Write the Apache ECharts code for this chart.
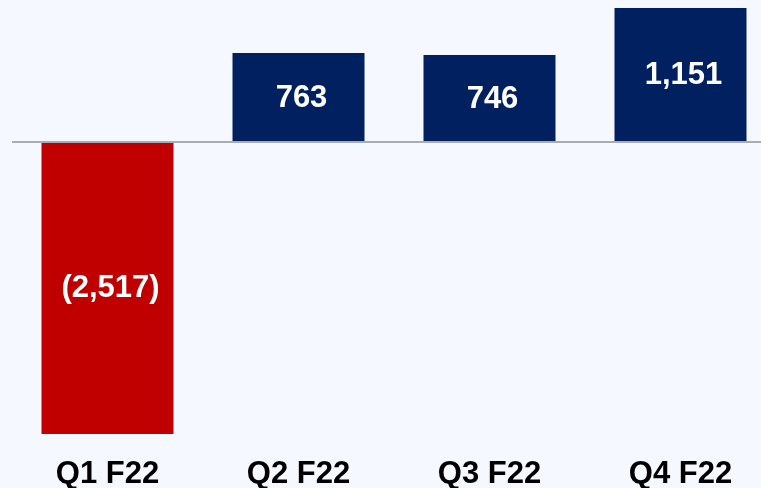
<!DOCTYPE html>
<html>
<head>
<meta charset="utf-8">
<script src="https://cdn.jsdelivr.net/npm/echarts@6/dist/echarts.min.js"></script>
<style>
  html, body { margin: 0; padding: 0; background: #F5F8FE; }
  #chart { width: 761px; height: 488px; }
</style>
</head>
<body>
<div id="chart"></div>
<script>
const quarters = ['Q1 F22', 'Q2 F22', 'Q3 F22', 'Q4 F22'];
const values = [-2517, 763, 746, 1151];
const barColors = ['#C00000', '#002060', '#002060', '#002060'];

function fmt(v) {
  const s = Math.abs(v).toLocaleString('en-US');
  return v < 0 ? '(' + s + ')' : s;
}

const chart = echarts.init(document.getElementById('chart'));
chart.setOption({
  backgroundColor: '#F5F8FE',
  animation: false,
  grid: {
    left: 12,
    width: 764,
    top: 8,
    bottom: 54,
    outerBoundsMode: 'none'
  },
  xAxis: {
    type: 'category',
    data: quarters,
    axisLine: { show: false, onZero: false },
    axisTick: { show: false },
    axisLabel: {
      color: '#000',
      fontSize: 31,
      fontWeight: 'bold',
      fontFamily: 'Liberation Sans, Arial, sans-serif',
      margin: 25
    }
  },
  yAxis: {
    type: 'value',
    min: -2517,
    max: 1151,
    show: false,
    splitLine: { show: false }
  },
  series: [{
    type: 'bar',
    barWidth: 132,
    data: values.map((v, i) => ({ value: v, itemStyle: { color: barColors[i] } })),
    label: {
      show: true,
      position: 'inside',
      offset: [3, 1],
      color: '#fff',
      fontSize: 31,
      fontWeight: 'bold',
      fontFamily: 'Liberation Sans, Arial, sans-serif',
      formatter: p => fmt(p.value)
    },
    markLine: {
      silent: true,
      symbol: ['none', 'none'],
      label: { show: false },
      lineStyle: { color: '#A8ACB4', width: 2, type: 'solid' },
      data: [{ yAxis: 0 }]
    }
  }]
});
</script>
</body>
</html>
